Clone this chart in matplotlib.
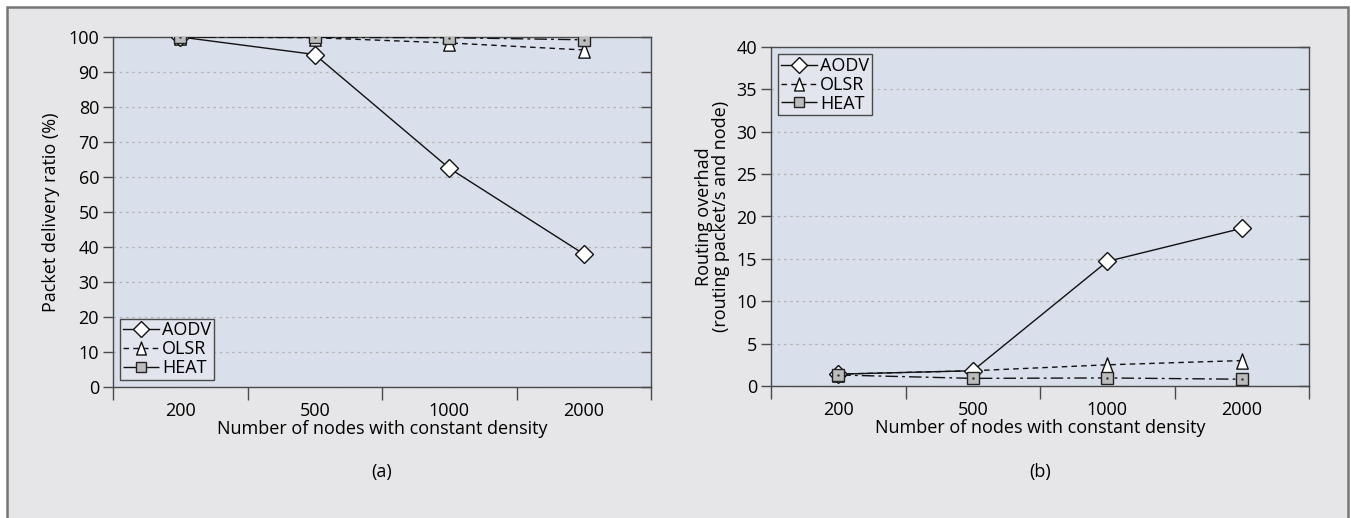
import matplotlib
matplotlib.use('Agg')
import matplotlib.pyplot as plt
import matplotlib.patches as mpatches
from matplotlib.path import Path

plt.rcParams['font.family'] = ['Open Sans', 'DejaVu Sans']

# ─── data ─────────
nodes = ['200', '500', '1000', '2000']

pdr_aodv = [100, 95, 62.5, 38]
pdr_olsr = [100, 99.8, 98.3, 96.3]
pdr_heat = [100, 99.9, 99.8, 99.2]

ovh_aodv = [1.4, 1.8, 14.7, 18.6]
ovh_olsr = [1.4, 1.8, 2.5, 3.0]
ovh_heat = [1.3, 0.9, 0.95, 0.8]

FIG_BG = '#e6e6e8'
AX_BG = '#d9dfeb'
EDGE = '#4a4a4a'
FS = 13

# narrow triangle like the original Excel marker
TRI = Path([(-0.75, -1), (0.75, -1), (0, 1), (-0.75, -1)],
           [Path.MOVETO, Path.LINETO, Path.LINETO, Path.CLOSEPOLY])

fig = plt.figure(figsize=(13.51, 5.18), dpi=100, facecolor='white')
fig.patches.append(mpatches.Rectangle((7 / 1351, -0.01), 1341 / 1351, 0.9965,
                                      transform=fig.transFigure, facecolor=FIG_BG,
                                      edgecolor='#767676', linewidth=1.8, zorder=-5))

ax_a = fig.add_axes([113 / 1351, 131 / 518, 538 / 1351, 350 / 518])
ax_b = fig.add_axes([771 / 1351, 132 / 518, 538 / 1351, 339 / 518])


def draw(ax, aodv, olsr, heat, ymax, ystep):
    x = range(len(nodes))
    ax.set_facecolor(AX_BG)
    l1, = ax.plot(x, aodv, color='#111111', lw=1.0, ls='-', marker='D',
                  ms=9.5, mfc='white', mec='#111111', mew=1.0, zorder=5)
    l2, = ax.plot(x, olsr, color='#111111', lw=1.0, ls=(0, (4, 3)), marker=TRI,
                  ms=11, mfc='white', mec='#111111', mew=1.0, zorder=4)
    l3, = ax.plot(x, heat, color='#111111', lw=1.0, ls=(0, (9, 3, 2, 3)), marker='s',
                  ms=9, mfc='#bcbcbc', mec='#222222', mew=1.0, zorder=6)
    ax.plot(x, heat, ls='none', marker='.', ms=1.5, color='#333333', zorder=7)

    ax.set_xlim(-0.5, len(nodes) - 0.5)
    ax.set_ylim(0, ymax)
    # category ticks sit between groups, labels at the centres
    ax.set_xticks([i - 0.5 for i in range(len(nodes) + 1)])
    ax.set_xticklabels([])
    ax.set_xticks(range(len(nodes)), minor=True)
    ax.set_xticklabels(nodes, minor=True, fontsize=FS)
    ax.tick_params(axis='x', which='major', direction='out', length=9,
                   width=1.0, color=EDGE)
    ax.tick_params(axis='x', which='minor', length=0, pad=11)

    ax.set_yticks([v for v in range(0, ymax + 1, ystep)])
    ax.tick_params(axis='y', direction='out', length=7, width=1.0, color=EDGE,
                   labelsize=FS, right=True, pad=3)
    for t in ax.yaxis.get_ticklines()[1::2]:
        t.set_marker(0)  # right-side ticks point inward
    ax.yaxis.grid(True, ls=(0, (2, 3)), color='#b4b4b4', lw=0.9)
    ax.set_axisbelow(True)
    for s in ax.spines.values():
        s.set_color(EDGE)
        s.set_linewidth(1.0)
    ax.set_xlabel('Number of nodes with constant density', fontsize=FS, labelpad=0)
    return [l1, l2, l3]


h_a = draw(ax_a, pdr_aodv, pdr_olsr, pdr_heat, 100, 10)
h_b = draw(ax_b, ovh_aodv, ovh_olsr, ovh_heat, 40, 5)

ax_a.set_ylabel('Packet delivery ratio (%)', fontsize=FS, labelpad=6)
ax_b.set_ylabel('Routing overhad\n(routing packet/s and node)', fontsize=FS,
                labelpad=5, linespacing=0.9)

labels = ['AODV', 'OLSR', 'HEAT']
for ax, h, loc in [(ax_a, h_a, 'lower left'), (ax_b, h_b, 'upper left')]:
    leg = ax.legend(h, labels, loc=loc, fontsize=FS, handlelength=2.0,
                    handletextpad=0.15, borderpad=0.15, labelspacing=0.05,
                    borderaxespad=0.4, fancybox=False, framealpha=1,
                    markerscale=0.85)
    leg.get_frame().set_edgecolor(EDGE)
    leg.get_frame().set_facecolor('#e2e5ee')
    leg.get_frame().set_linewidth(1.0)

fig.text(382 / 1351, 1 - 472 / 518, '(a)', ha='center', va='center', fontsize=FS)
fig.text(1040 / 1351, 1 - 472 / 518, '(b)', ha='center', va='center', fontsize=FS)

fig.savefig('out.png', dpi=100, facecolor=fig.get_facecolor())
